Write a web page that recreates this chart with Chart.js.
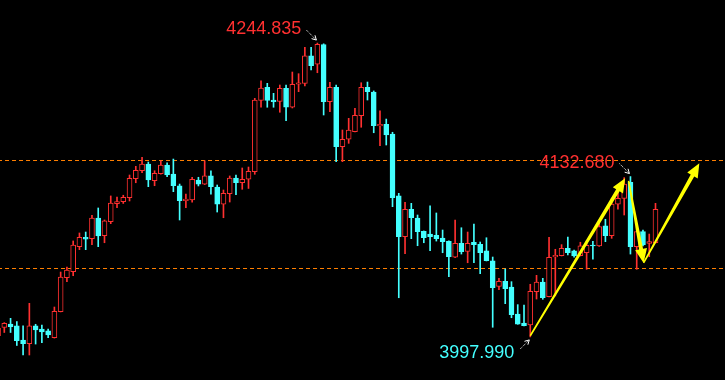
<!DOCTYPE html>
<html>
<head>
<meta charset="utf-8">
<script src="https://cdn.jsdelivr.net/npm/chart.js@4.4.0/dist/chart.umd.min.js"></script>
<style>
  html, body { margin: 0; padding: 0; background: #000; }
  #wrap { width: 725px; height: 380px; }
</style>
</head>
<body>
<div id="wrap"><canvas id="c" width="725" height="380"></canvas></div>
<script>
// OHLC, one value per candle (index 0 is the half-hidden candle at the left edge)
const opens = [3999.0,4005.9,4008.8,4007.2,3995.4,3992.3,4007.2,4004.6,4003.0,3997.3,
  4019.2,4047.7,4052.8,4073.8,4081.7,4080.5,4097.9,4083.0,4094.8,4109.9,
  4111.6,4114.9,4130.9,4137.6,4143.2,4129.2,4135.1,4142.4,4134.8,4124.8,
  4112.4,4113.0,4129.8,4126.4,4133.2,4123.9,4109.6,4118.3,4131.5,4127.5,
  4130.4,4136.8,4196.7,4207.7,4197.0,4195.9,4206.8,4190.9,4210.2,4211.0,
  4234.0,4227.0,4243.6,4195.6,4207.7,4157.8,4164.0,4170.4,4183.8,4207.7,
  4203.7,4175.2,4176.6,4168.4,4116.4,4082.2,4105.2,4097.9,4086.6,4084.4,
  4083.3,4081.1,4078.3,4064.9,4076.6,4069.9,4077.5,4075.8,4070.2,4061.8,
  4040.5,4044.7,4039.9,4017.2,4009.7,4008.0,4036.0,4044.1,4031.8,4065.1,
  4066.2,4072.4,4070.2,4066.2,4068.7,4075.2,4074.4,4091.2,4083.0,4109.4,
  4114.4,4127.9,4073.8,4086.4,4076.6,4077.1];
const highs = [4007.2,4010.0,4013.6,4010.9,4007.2,4026.2,4008.6,4008.0,4004.6,4023.1,
  4052.5,4056.7,4078.6,4085.3,4086.1,4100.2,4106.3,4096.2,4116.4,4115.5,
  4117.0,4134.0,4141.3,4148.9,4144.9,4137.6,4146.0,4144.3,4147.4,4126.4,
  4118.0,4132.1,4132.1,4146.0,4137.4,4125.6,4121.4,4133.2,4134.0,4139.9,
  4140.7,4198.4,4213.0,4211.0,4202.6,4209.6,4209.6,4220.5,4219.1,4241.3,
  4241.3,4244.835,4244.2,4211.9,4209.6,4171.8,4181.6,4190.0,4211.5,4212.1,
  4204.6,4187.8,4181.0,4169.9,4118.6,4111.1,4110.2,4100.4,4087.0,4108.0,
  4102.1,4087.8,4078.6,4096.2,4089.7,4086.1,4092.8,4077.7,4081.3,4065.1,
  4047.2,4055.0,4044.4,4025.1,4024.8,4042.2,4049.7,4047.2,4081.7,4071.6,
  4075.5,4081.9,4071.0,4077.5,4078.8,4078.3,4093.4,4096.8,4114.4,4121.4,
  4131.8,4132.68,4090.6,4087.8,4084.4,4110.2];
const lows = [3998.5,4001.7,4001.7,3990.8,3982.8,3982.8,3992.0,3993.1,3997.3,3997.0,
  4019.0,4044.4,4049.4,4071.3,4071.3,4075.5,4073.8,4077.1,4093.1,4106.5,
  4110.1,4112.2,4127.5,4135.9,4124.2,4125.0,4134.8,4132.6,4120.0,4096.2,
  4106.5,4111.1,4124.8,4126.0,4118.0,4102.9,4098.1,4111.3,4117.5,4122.0,
  4122.7,4134.6,4190.9,4190.9,4190.9,4186.7,4179.6,4190.3,4204.0,4208.8,
  4222.2,4219.9,4184.4,4187.2,4145.2,4145.2,4160.6,4170.1,4174.1,4197.0,
  4169.5,4158.6,4159.2,4107.4,4030.9,4067.9,4080.5,4074.6,4077.1,4070.4,
  4078.5,4068.7,4048.6,4064.6,4067.6,4060.3,4060.3,4051.1,4061.8,4006.1,
  4037.7,4025.9,4014.1,4008.6,4007.2,3997.99,4029.8,4029.6,4031.5,4032.4,
  4066.0,4066.8,4064.9,4066.0,4054.8,4063.2,4074.1,4078.0,4080.8,4105.2,
  4100.4,4067.6,4054.8,4074.4,4065.4,4076.9];
const closes = [4005.5,4009.4,4006.6,3994.8,3992.3,4007.2,4003.8,4002.1,3999.6,4019.5,
  4048.3,4054.2,4075.2,4081.7,4080.2,4097.9,4082.8,4095.4,4110.5,4111.6,
  4115.3,4131.2,4138.0,4143.2,4129.8,4135.4,4142.4,4134.0,4125.0,4112.4,
  4113.8,4130.4,4126.4,4133.2,4124.2,4109.6,4118.6,4131.5,4127.5,4130.4,
  4137.1,4197.0,4207.1,4196.7,4195.6,4206.8,4190.9,4210.2,4211.5,4234.0,
  4225.8,4243.8,4195.6,4207.7,4157.8,4164.0,4171.8,4184.1,4207.7,4204.0,
  4175.4,4176.6,4167.6,4114.9,4082.2,4105.2,4098.1,4086.4,4081.3,4082.2,
  4080.5,4078.0,4065.4,4076.6,4069.6,4076.6,4075.5,4068.7,4062.0,4039.3,
  4044.7,4038.5,4016.6,4008.8,4007.4,4036.3,4044.1,4030.9,4064.9,4066.6,
  4072.4,4068.7,4066.0,4074.4,4075.0,4074.4,4090.6,4083.0,4109.6,4114.4,
  4126.4,4073.8,4086.4,4075.2,4078.0,4105.2];

// horizontal dashed levels
const levels = [4146.18, 4055.46];

// yellow trend arrows: [fromIndex, fromPrice, toIndex, toPrice]
const trendArrows = [
  [85, 3999.0, 100.15, 4131.2],
  [100.7, 4129.0, 103.1, 4060.1],
  [103.1, 4060.1, 112.0, 4143.8]
];

// price marks: candle index, price, text, side
const marks = [
  {i: 51, price: 4244.835, text: '4244.835', side: 'high'},
  {i: 101, price: 4132.68, text: '4132.680', side: 'high'},
  {i: 85, price: 3997.99, text: '3997.990', side: 'low'}
];

const UP = '#ff3030';
const DOWN = '#44ffff';
const LEVEL = '#ff7f00';

const idx = opens.map((_, i) => i);
const isUp = (i) => closes[i] >= opens[i];

const bodies = idx.map(i => ({x: i, y: [opens[i], closes[i]]}));
const wicks = idx.map(i => ({x: i, y: [lows[i], highs[i]]}));
const candleColor = idx.map(i => isUp(i) ? UP : DOWN);
const bodyFill = idx.map(i => isUp(i) ? '#000000' : DOWN);

const levelSets = levels.map(v => ({
  type: 'line',
  data: [{x: 0, y: v}, {x: 117, y: v}],
  borderColor: LEVEL,
  borderWidth: 1,
  borderDash: [4, 3],
  pointRadius: 0,
  order: 3
}));

function yellowArrow(ctx, x0, y0, x1, y1) {
  const dx = x1 - x0, dy = y1 - y0, len = Math.hypot(dx, dy);
  const ux = dx / len, uy = dy / len, nx = -uy, ny = ux;
  const hl = 14, hw = 6;
  const bx = x1 - ux * hl, by = y1 - uy * hl;
  ctx.fillStyle = '#ffff00';
  ctx.beginPath();
  ctx.moveTo(x0 + nx * 0.8, y0 + ny * 0.8);
  ctx.lineTo(bx + nx * 2, by + ny * 2);
  ctx.lineTo(bx + nx * hw, by + ny * hw);
  ctx.lineTo(x1, y1);
  ctx.lineTo(bx - nx * hw, by - ny * hw);
  ctx.lineTo(bx - nx * 2, by - ny * 2);
  ctx.lineTo(x0 - nx * 0.8, y0 - ny * 0.8);
  ctx.closePath();
  ctx.fill();
}

function pointer(ctx, tx, ty, hx, hy) {
  ctx.strokeStyle = '#ffffff';
  ctx.lineWidth = 1;
  ctx.setLineDash([1, 1]);
  ctx.beginPath();
  ctx.moveTo(tx, ty);
  ctx.lineTo(hx, hy);
  ctx.stroke();
  ctx.setLineDash([]);
  const a = Math.atan2(hy - ty, hx - tx);
  ctx.beginPath();
  ctx.moveTo(hx - 5 * Math.cos(a - 0.5), hy - 5 * Math.sin(a - 0.5));
  ctx.lineTo(hx, hy);
  ctx.lineTo(hx - 5 * Math.cos(a + 0.5), hy - 5 * Math.sin(a + 0.5));
  ctx.stroke();
}

const overlay = {
  id: 'overlay',
  afterDatasetsDraw(chart) {
    const {ctx, scales: {x, y}} = chart;
    ctx.save();
    trendArrows.forEach(a => yellowArrow(ctx,
      x.getPixelForValue(a[0]), y.getPixelForValue(a[1]),
      x.getPixelForValue(a[2]), y.getPixelForValue(a[3])));

    ctx.font = '18px "Liberation Sans", Arial, sans-serif';
    ctx.textAlign = 'right';
    ctx.textBaseline = 'alphabetic';
    marks.forEach(m => {
      const px = x.getPixelForValue(m.i), py = y.getPixelForValue(m.price);
      if (m.side === 'high') {
        const hx = px - 1, hy = py - 3;
        pointer(ctx, hx - 10, hy - 10, hx, hy);
        ctx.fillStyle = UP;
        ctx.fillText(m.text, hx - 15, hy - 6);
      } else {
        const hx = px - 1, hy = py + 3;
        pointer(ctx, hx - 9, hy + 9, hx, hy);
        ctx.fillStyle = DOWN;
        ctx.fillText(m.text, hx - 15, hy + 18);
      }
    });
    ctx.restore();
  }
};

new Chart(document.getElementById('c'), {
  type: 'bar',
  data: {
    datasets: [
      ...levelSets,
      {
        data: wicks,
        backgroundColor: candleColor,
        borderWidth: 0,
        barThickness: 1,
        grouped: false,
        order: 2
      },
      {
        data: bodies,
        backgroundColor: bodyFill,
        borderColor: candleColor,
        borderWidth: 1,
        borderSkipped: false,
        barThickness: 5,
        grouped: false,
        order: 1
      }
    ]
  },
  options: {
    responsive: false,
    animation: false,
    events: [],
    layout: { padding: 0 },
    plugins: { legend: { display: false }, tooltip: { enabled: false } },
    scales: {
      x: { type: 'linear', min: 0.313, max: 116.1, offset: false, display: false },
      y: { min: 3961.8, max: 4281, display: false }
    }
  },
  plugins: [overlay]
});
</script>
</body>
</html>
